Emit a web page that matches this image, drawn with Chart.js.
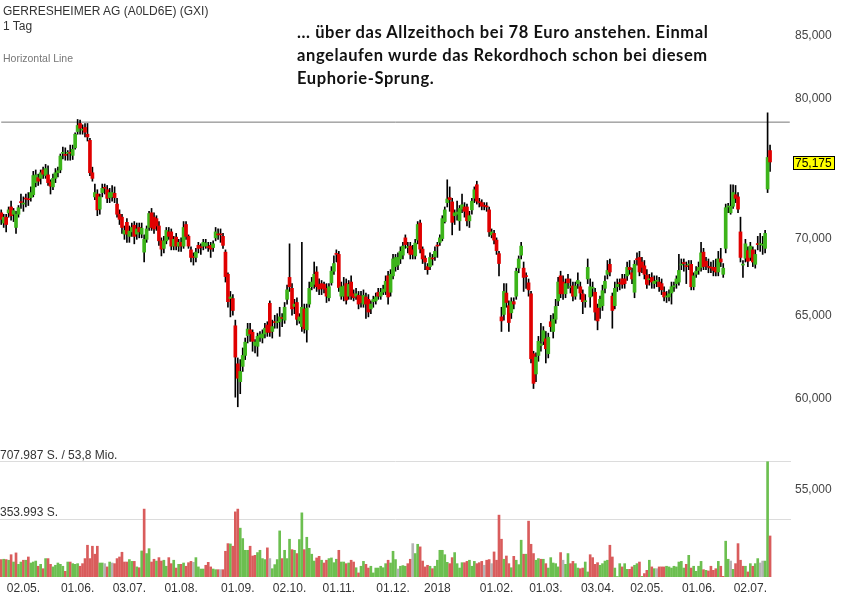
<!DOCTYPE html>
<html>
<head>
<meta charset="utf-8">
<script src="https://cdn.jsdelivr.net/npm/chart.js@4/dist/chart.umd.min.js"></script>
<style>
  html, body { margin: 0; padding: 0; background: #fff; }
  #wrap { position: relative; width: 842px; height: 603px; overflow: hidden; }
  #chart { position: absolute; left: 0; top: 0; }
  .txt { position: absolute; white-space: nowrap; font-family: "Liberation Sans", Arial, sans-serif; color: #333; }
  .note { position: absolute; left: 297px; top: 21px; font-family: Lato, "Open Sans", sans-serif; font-weight: 700;
          font-size: 16.5px; letter-spacing: 0.6px; line-height: 23px; color: #111; white-space: nowrap; }
</style>
</head>
<body>
<div id="wrap">
  <canvas id="chart" width="842" height="603"></canvas>
  <div class="txt" style="left:3px;top:4px;font-size:12px;line-height:15px;">GERRESHEIMER AG (A0LD6E) (GXI)</div>
  <div class="txt" style="left:3px;top:19px;font-size:12px;line-height:15px;">1 Tag</div>
  <div class="txt" style="left:3px;top:52px;font-size:10.5px;line-height:13px;color:#777;">Horizontal Line</div>
  <div class="note">... über das Allzeithoch bei 78 Euro anstehen. Einmal<br>angelaufen wurde das Rekordhoch schon bei diesem<br>Euphorie-Sprung.</div>
</div>
<script>
// daily candles, Apr 2017 - Jul 2018 (EUR)
const opens = [
  71.6,70.9,71.3,71.6,72.0,71.5,70.6,71.5,72.35,72.2,
  72.6,72.55,72.65,72.85,73.7,74.05,74.0,74.6,74.2,74.25,
  73.75,73.4,74.0,74.4,74.6,75.8,75.7,75.8,75.85,75.65,
  76.2,77.4,78.0,77.5,77.7,77.2,76.75,74.4,72.7,72.9,
  71.85,73.0,73.35,73.2,72.65,72.7,72.95,72.2,71.5,71.3,
  70.15,70.95,70.0,70.3,70.75,70.15,70.6,70.15,68.95,69.8,
  70.6,71.6,71.3,71.2,70.7,69.7,69.2,69.7,70.3,70.3,
  69.35,69.95,69.35,69.6,69.35,70.8,70.0,69.1,68.65,68.6,
  69.4,69.3,69.35,69.35,69.3,69.4,69.25,69.9,70.15,70.15,
  70.0,68.95,67.5,65.95,65.95,64.25,61.95,60.9,61.8,62.45,
  63.65,64.0,63.85,63.05,63.0,63.55,63.5,63.75,64.3,65.65,
  63.9,64.5,64.45,64.5,64.75,64.6,65.9,67.3,66.6,65.45,
  65.7,64.55,64.2,65.3,64.0,65.6,66.7,66.85,67.65,66.85,
  66.9,66.85,66.6,66.0,66.95,67.7,68.85,68.8,66.1,66.1,
  66.9,66.1,67.0,66.25,66.1,66.15,66.1,65.6,66.05,65.9,
  65.3,65.75,65.8,66.35,66.1,66.35,66.4,67.4,66.35,67.4,
  68.0,68.1,68.5,68.75,69.9,69.25,69.35,69.1,68.7,69.75,
  70.9,69.15,68.55,68.0,68.0,68.55,68.65,69.4,69.6,69.85,
  71.0,72.3,72.65,72.35,71.4,71.5,71.05,71.85,72.0,72.0,
  71.05,71.8,72.6,73.55,72.35,72.3,72.1,72.05,71.8,70.1,
  70.2,69.75,68.85,64.8,64.95,66.3,65.5,65.05,65.75,66.1,
  67.9,68.75,67.9,67.4,66.95,66.25,62.55,61.35,62.45,63.05,
  63.3,63.45,62.55,64.5,63.9,64.65,65.8,67.4,67.0,66.25,
  67.2,66.65,66.75,66.1,66.9,66.7,66.25,65.75,67.2,66.05,
  66.6,66.35,65.35,65.4,65.5,66.6,67.5,68.15,66.1,65.5,
  66.7,66.95,67.2,67.2,67.4,67.95,67.6,66.35,68.5,68.6,
  68.3,68.05,67.45,67.15,67.3,66.9,67.05,67.0,66.9,66.35,
  66.05,66.05,66.3,66.7,66.9,67.0,68.1,68.25,68.05,68.1,
  68.15,66.7,67.5,67.75,67.95,68.95,68.35,68.0,67.95,67.95,
  67.95,67.65,68.5,67.5,69.2,72.0,71.6,72.05,72.85,72.7,
  70.3,68.1,68.55,69.05,68.6,69.1,68.15,69.5,69.45,69.4,
  69.2,73.25,76.0
];
const highs = [
  71.8,71.5,71.5,72.0,72.4,71.9,71.7,72.1,72.9,72.7,
  72.9,73.0,73.4,74.5,74.6,74.3,74.6,74.8,75.0,74.9,
  73.9,74.3,74.7,74.8,75.75,76.25,76.2,76.0,76.4,76.4,
  77.3,78.3,78.25,77.9,78.0,78.0,76.9,74.8,73.6,73.2,
  72.9,73.6,73.6,73.5,73.3,73.5,73.4,72.6,71.8,71.5,
  70.7,71.2,70.7,70.9,71.0,70.9,70.9,70.9,70.1,70.7,
  71.7,71.9,71.6,71.4,71.0,69.9,70.0,70.6,70.6,70.5,
  70.0,70.2,69.8,69.9,71.0,71.0,70.1,69.3,68.9,69.2,
  69.6,69.5,69.8,69.8,69.6,69.6,69.7,70.6,70.5,70.5,
  70.2,69.1,67.6,66.4,66.2,64.6,62.3,62.2,62.9,63.5,
  64.4,64.4,64.0,63.4,63.8,63.9,64.0,64.4,64.5,65.8,
  64.6,64.9,65.0,65.4,65.0,65.7,66.8,69.5,66.9,65.9,
  66.0,65.0,69.6,65.6,65.6,67.0,67.3,68.3,68.0,67.2,
  67.1,67.0,66.9,66.9,68.0,68.7,69.1,69.0,67.0,67.3,
  67.2,67.1,67.4,66.5,66.6,66.4,66.4,66.5,66.3,66.2,
  65.8,66.1,66.3,66.6,66.6,66.8,67.4,67.7,67.8,68.8,
  68.8,68.9,69.3,69.6,70.1,69.6,69.6,69.4,69.8,71.0,
  71.1,69.3,68.7,68.2,68.9,68.8,69.3,69.6,70.1,71.4,
  72.0,73.9,73.4,72.6,71.8,72.4,72.1,72.9,72.3,72.2,
  71.7,72.6,73.4,73.8,72.6,72.5,72.3,72.3,72.0,70.5,
  70.4,69.9,69.0,65.4,66.9,66.9,65.8,66.0,66.0,67.9,
  68.7,69.6,68.3,67.6,67.2,66.4,62.7,62.6,63.6,64.4,
  64.2,63.9,63.8,64.9,65.0,65.9,67.3,67.7,67.4,67.2,
  67.5,67.2,67.0,67.0,67.6,67.0,66.5,66.2,68.5,67.2,
  67.0,66.6,65.6,66.1,66.8,67.4,68.4,68.5,66.3,67.0,
  67.2,67.2,67.5,67.5,68.3,68.4,67.9,68.4,68.9,69.0,
  68.6,68.4,67.8,67.5,67.6,67.4,67.4,67.3,67.2,66.7,
  66.4,66.5,67.0,67.0,67.4,68.8,68.5,68.5,68.3,68.4,
  68.4,67.6,68.0,68.3,69.6,69.2,68.6,68.5,68.3,68.4,
  68.5,69.0,69.2,68.2,72.2,72.25,73.55,73.55,73.5,73.0,
  71.3,68.4,69.8,69.3,69.6,69.3,69.1,70.0,70.2,70.0,
  70.4,78.8,76.4
];
const lows = [
  70.8,70.6,70.3,71.3,71.1,71.0,70.2,71.3,71.9,71.7,
  72.0,72.1,72.4,72.7,73.4,73.5,73.6,74.0,74.0,73.5,
  72.9,73.2,73.7,74.1,74.4,75.4,75.3,75.3,75.3,75.35,
  76.1,77.2,77.2,77.2,77.0,76.7,74.2,73.8,72.5,71.4,
  71.5,72.7,72.9,72.3,72.3,72.4,72.3,71.3,70.8,70.2,
  69.8,69.6,69.6,70.0,69.5,69.8,69.9,69.9,68.3,69.6,
  70.4,70.4,70.2,70.4,69.4,68.7,68.9,69.5,69.8,69.1,
  69.1,69.1,69.0,69.0,69.2,69.8,69.2,68.3,68.1,68.3,
  68.9,68.8,69.1,69.2,69.0,68.6,69.0,69.7,69.8,69.6,
  69.2,67.0,65.4,64.8,64.9,60.0,59.45,60.2,61.5,62.2,
  63.2,63.3,62.7,62.6,62.4,63.3,63.2,63.5,63.6,63.6,
  63.5,64.1,64.1,63.6,64.2,64.4,65.6,66.4,64.9,65.0,
  64.3,64.4,63.9,63.8,63.25,65.4,66.5,66.6,66.4,66.2,
  66.2,66.3,65.7,65.8,66.8,67.5,68.3,66.4,65.9,65.8,
  65.6,65.9,65.9,65.8,65.9,65.3,65.4,65.4,64.7,64.8,
  65.0,65.4,65.6,65.9,65.9,66.2,66.2,65.6,66.1,67.2,
  67.7,67.8,68.2,68.5,69.2,68.9,68.5,68.5,68.5,69.5,
  68.9,68.2,67.8,67.5,67.8,68.1,68.4,68.6,69.4,69.7,
  70.9,72.0,71.7,70.1,70.8,71.1,70.4,71.6,71.3,70.7,
  70.6,71.5,72.3,72.2,72.0,71.8,71.8,71.7,70.0,69.9,
  69.5,68.8,67.4,63.9,64.6,65.4,63.9,64.7,65.3,65.9,
  67.6,68.5,66.4,66.6,66.1,62.0,60.5,60.9,62.1,62.7,
  63.1,62.0,62.3,63.9,63.5,64.4,65.5,66.0,65.9,66.0,
  66.6,66.3,65.8,65.9,66.6,65.9,65.0,65.4,66.9,65.4,
  66.1,64.6,64.0,64.7,65.2,66.3,67.2,67.4,64.1,65.3,
  66.4,66.5,66.6,66.6,67.1,67.5,66.9,66.0,68.1,67.4,
  67.6,67.2,66.6,66.8,66.6,66.6,66.7,66.4,66.2,65.8,
  65.7,65.8,65.6,66.4,66.6,66.8,67.8,67.7,66.9,67.8,
  66.5,66.5,67.3,67.5,67.7,67.8,67.8,67.6,67.6,67.4,
  67.4,67.4,68.0,67.3,68.9,71.6,71.5,71.9,72.3,71.6,
  68.3,67.3,68.3,68.0,68.4,68.0,67.9,69.1,69.0,68.8,
  68.9,73.0,74.5
];
const closes = [
  71.15,71.3,70.8,71.8,71.4,71.75,71.5,71.95,72.3,72.25,
  72.55,72.5,73.0,74.2,74.25,73.8,74.4,74.3,74.7,73.7,
  73.45,74.0,74.4,74.55,75.6,75.85,75.65,75.85,75.8,76.1,
  77.2,77.85,77.65,77.55,77.35,77.0,74.4,74.0,73.0,71.8,
  72.7,73.3,73.3,72.6,73.0,73.0,72.65,71.5,71.15,70.6,
  70.4,70.15,70.35,70.6,70.0,70.5,70.3,70.55,69.8,70.5,
  71.55,70.6,70.5,70.7,69.7,69.15,69.7,70.4,70.0,69.35,
  69.8,69.35,69.6,69.35,70.6,70.0,69.35,68.6,68.6,68.95,
  69.2,69.25,69.6,69.55,69.25,69.15,69.5,70.3,70.1,70.1,
  69.4,67.35,65.75,66.05,65.2,62.35,61.1,61.5,62.45,63.25,
  64.05,63.75,63.3,63.25,63.6,63.7,63.75,64.1,63.85,63.85,
  64.2,64.45,64.5,64.8,64.7,65.4,66.5,66.7,65.3,65.6,
  64.65,64.8,65.4,64.05,65.35,66.6,67.0,67.5,66.7,66.55,
  66.6,66.55,66.1,66.7,67.7,68.2,68.8,66.65,66.7,66.75,
  65.85,66.85,66.1,66.0,66.25,65.6,65.7,66.15,65.6,65.1,
  65.6,65.9,66.05,66.1,66.35,66.55,67.05,66.05,67.5,68.5,
  68.6,68.6,69.0,69.35,69.45,69.3,68.8,68.8,69.55,70.8,
  69.15,68.5,68.3,67.8,68.6,68.5,69.0,69.35,69.9,71.2,
  71.8,72.55,72.5,70.95,71.6,71.65,71.9,72.15,71.7,71.05,
  71.4,72.4,73.2,72.4,72.3,72.05,72.05,72.0,70.3,70.3,
  69.75,69.05,68.2,64.55,66.4,65.7,64.45,65.75,65.6,67.7,
  68.5,69.35,67.3,67.35,66.5,62.25,60.8,62.35,63.3,63.15,
  63.95,62.85,63.55,64.2,64.65,65.45,67.0,66.25,66.25,66.9,
  66.95,66.7,66.1,66.75,67.1,66.3,65.75,65.8,67.95,66.7,
  66.65,65.1,64.55,65.9,66.45,67.05,67.75,67.65,65.2,66.6,
  66.85,66.9,66.85,66.9,67.95,67.8,67.2,68.15,68.45,67.65,
  67.95,67.5,66.85,67.2,67.0,67.05,67.05,66.7,66.5,66.05,
  66.1,66.25,66.7,66.75,67.2,67.75,68.15,68.2,68.0,68.15,
  66.7,67.4,67.7,67.95,68.9,68.0,68.05,67.95,67.9,67.75,
  67.65,68.5,68.3,67.9,71.95,72.05,72.05,73.0,72.6,71.85,
  68.6,68.15,69.5,68.35,69.35,68.3,68.8,69.45,69.45,69.45,
  70.2,75.5,75.175
];
// daily volume, thousand shares
const volumes = [
  107,109,107,103,137,92,148,78,92,103,
  103,123,86,92,98,66,78,51,113,113,
  78,62,72,86,78,66,35,92,92,82,
  78,82,66,82,113,195,113,189,140,189,
  86,86,82,62,92,86,82,113,123,152,
  92,92,107,96,96,62,57,160,417,144,
  174,92,109,98,119,98,103,66,119,82,
  103,55,78,78,86,66,88,96,90,119,
  62,49,49,72,90,62,49,45,45,45,
  45,158,205,203,189,400,417,300,236,164,
  164,189,129,133,150,164,113,107,179,113,
  51,76,107,283,113,164,113,232,168,164,
  144,230,394,168,244,176,140,98,117,127,
  103,86,103,113,117,88,109,164,92,92,
  82,86,103,92,57,25,66,96,78,55,
  66,25,55,55,66,57,82,103,86,158,
  107,49,66,70,66,82,109,205,144,201,
  185,98,62,72,66,51,66,103,164,164,
  137,90,82,119,150,82,55,88,88,96,
  103,66,96,82,88,96,72,103,107,82,
  154,103,380,232,109,129,82,57,127,103,
  76,226,140,140,343,201,144,103,113,109,
  109,82,55,119,86,82,62,150,103,78,
  144,82,96,82,55,51,55,92,31,137,
  119,78,88,72,82,98,103,195,123,55,
  3,82,62,82,47,47,62,72,82,92,
  4,21,41,103,62,51,51,62,62,62,
  66,62,55,66,62,92,96,55,78,133,
  55,66,35,66,96,45,41,37,66,41,
  51,96,66,4,220,109,98,47,82,205,
  103,66,66,31,82,66,82,113,86,98,
  98,708,252
];

const tickIndex = [9, 31, 52, 73, 96, 117, 137, 159, 177, 201, 221, 242, 262, 283, 304];
const tickText = ['02.05.', '01.06.', '03.07.', '01.08.', '01.09.', '02.10.', '01.11.', '01.12.',
  '2018', '01.02.', '01.03.', '03.04.', '02.05.', '01.06.', '02.07.'];
const priceTicks = [55, 60, 65, 70, 80, 85];
const lineLevel = 78.1;
const volumeLines = [353993, 707987];
const volumeLineText = ['353.993 S.', '707.987 S. / 53,8 Mio.'];
const lastPrice = 75.175;

const SLOTS = 321; // trading days incl. empty space on the right
const GREEN = '#3cb41a';
const RED = '#e00000';
const FONT = '"Liberation Sans", Arial, sans-serif';

const labels = Array.from({ length: SLOTS }, (_, i) => i);
const fmt = (v) => v.toFixed(3).replace('.', ',');

const bodyColors = closes.map((c, i) => (c >= opens[i] ? GREEN : RED));
const volColors = closes.map((c, i) => {
  const prev = i > 0 ? closes[i - 1] : opens[0];
  if (c > prev) return '#6cbf50';
  if (c < prev) return '#d95c5c';
  return '#b4b4b4';
});

// no auto padding: the plot runs edge to edge like the original
const noPad = (s) => {
  s.paddingTop = 0;
  s.paddingBottom = 0;
  s.paddingLeft = 0;
  s.paddingRight = 0;
};

const overlay = {
  id: 'overlay',
  afterDraw(chart) {
    const { ctx, scales } = chart;
    ctx.save();
    ctx.font = '12px ' + FONT;
    ctx.fillStyle = '#333';
    ctx.textBaseline = 'alphabetic';
    volumeLines.forEach((v, i) => {
      const y = scales.yv.getPixelForValue(v);
      ctx.fillText(volumeLineText[i], 0, y - 3);
    });

    const y = Math.round(scales.y.getPixelForValue(lastPrice));
    const x = Math.round(scales.y.left) + 2;
    ctx.fillStyle = '#ffff00';
    ctx.fillRect(x, y - 6, 42, 14);
    ctx.strokeStyle = '#000';
    ctx.lineWidth = 1;
    ctx.strokeRect(x + 0.5, y - 5.5, 41, 13);
    ctx.fillStyle = '#000';
    ctx.textBaseline = 'middle';
    ctx.fillText(fmt(lastPrice), x + 2, y + 1.5);
    ctx.restore();
  },
};

new Chart(document.getElementById('chart'), {
  data: {
    labels,
    datasets: [
      {
        type: 'bar',
        data: opens.map((o, i) => [o, closes[i]]),
        backgroundColor: bodyColors,
        barThickness: 3,
        minBarLength: 1,
        grouped: false,
        yAxisID: 'y',
        order: 0,
      },
      {
        type: 'bar',
        data: lows.map((l, i) => [l, highs[i]]),
        backgroundColor: '#000',
        barThickness: 1,
        grouped: false,
        yAxisID: 'y',
        order: 1,
      },
      {
        type: 'line',
        data: [{ x: 0, y: lineLevel }, { x: SLOTS - 1, y: lineLevel }],
        borderColor: '#777',
        borderWidth: 1,
        pointRadius: 0,
        yAxisID: 'y',
        order: 2,
      },
      {
        type: 'bar',
        data: volumes.map((v) => v * 1000),
        backgroundColor: volColors,
        barThickness: 2,
        grouped: false,
        yAxisID: 'yv',
        order: 3,
      },
    ],
  },
  options: {
    responsive: false,
    animation: false,
    events: [],
    layout: { padding: 0 },
    plugins: { legend: { display: false }, tooltip: { enabled: false } },
    scales: {
      x: {
        type: 'category',
        offset: true,
        grid: { display: false, drawTicks: false },
        border: { display: false },
        ticks: {
          autoSkip: false,
          maxRotation: 0,
          padding: 4,
          color: '#333',
          font: { family: FONT, size: 12 },
          callback: (v) => tickText[tickIndex.indexOf(v)] ?? '',
        },
        afterBuildTicks: (s) => { s.ticks = tickIndex.map((v) => ({ value: v })); },
        afterFit: (s) => { s.height = 26; noPad(s); },
      },
      y: {
        type: 'logarithmic',
        position: 'right',
        min: 50.5,
        max: 87.8,
        grid: { display: false, drawTicks: false },
        border: { display: false },
        ticks: {
          padding: 4,
          labelOffset: 2,
          color: '#444',
          font: { family: FONT, size: 12 },
          callback: (v) => fmt(v),
        },
        afterBuildTicks: (s) => { s.ticks = priceTicks.map((v) => ({ value: v })); },
        afterFit: (s) => { s.width = 51; noPad(s); },
      },
      yv: {
        type: 'linear',
        position: 'left',
        min: 0,
        max: 707987 / 0.1998,
        grid: { color: '#dcdcdc', drawTicks: false },
        border: { display: false },
        ticks: { display: false },
        afterBuildTicks: (s) => { s.ticks = volumeLines.map((v) => ({ value: v })); },
        afterFit: (s) => { s.width = 0; noPad(s); },
      },
    },
  },
  plugins: [overlay],
});
</script>
</body>
</html>
